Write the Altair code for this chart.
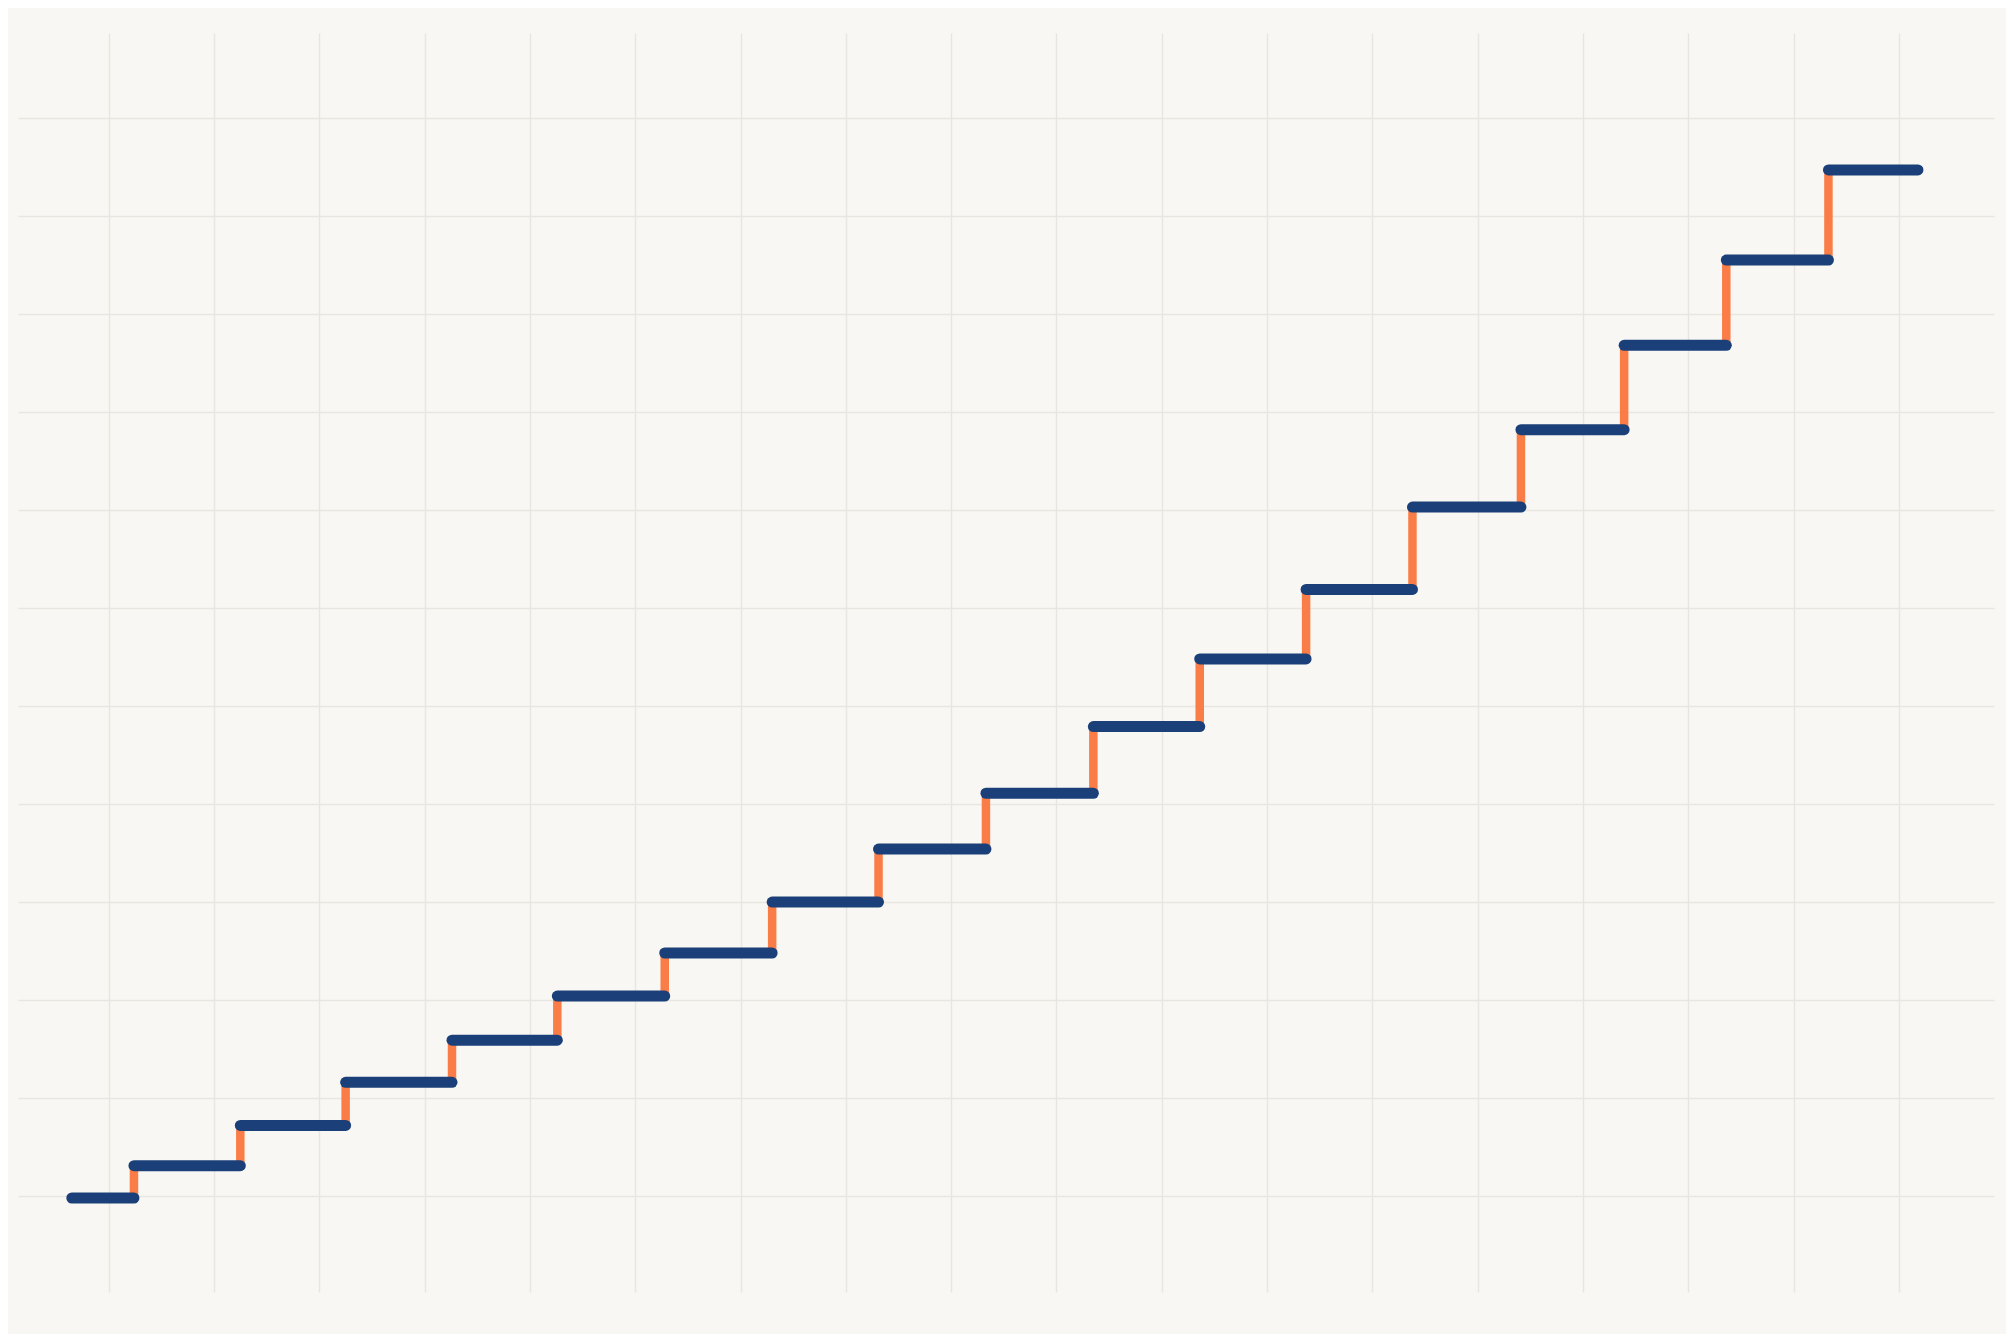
import altair as alt
import pandas as pd

# Step levels (value of each horizontal tread, in grid units)
levels = [-0.02, 0.31, 0.72, 1.16, 1.59, 2.04, 2.48, 3.00, 3.54, 4.11,
          4.79, 5.48, 6.19, 7.03, 7.82, 8.68, 9.55, 10.47]
# x positions where the series steps up
risers = [0.24, 1.25, 2.25, 3.26, 4.26, 5.28, 6.30, 7.31, 8.33, 9.35,
          10.36, 11.37, 12.38, 13.41, 14.39, 15.36, 16.33]
first_start = -0.35
last_end = 17.18

x_ticks = list(range(18))
y_ticks = list(range(12))

treads = pd.DataFrame({
    "x": [first_start] + risers,
    "x2": risers + [last_end],
    "y": levels,
})
rises = pd.DataFrame({
    "x": risers,
    "y": levels[:-1],
    "y2": levels[1:],
})

BG = "#F9F7F3"
GRID = "#E9E5E0"
BLUE = "#1B4079"
ORANGE = "#FA7D47"

xs = alt.Scale(domain=[-0.861, 17.902], nice=False, zero=False)
ys = alt.Scale(domain=[-0.979, 11.867], nice=False, zero=False)

xaxis = alt.Axis(values=x_ticks, grid=True, labels=False, ticks=False,
                 domain=False, title=None, gridColor=GRID, gridWidth=1.5)
yaxis = alt.Axis(values=y_ticks, grid=True, labels=False, ticks=False,
                 domain=False, title=None, gridColor=GRID, gridWidth=1.5)

riser_layer = alt.Chart(rises).mark_rule(
    color=ORANGE, strokeWidth=8.5
).encode(
    x=alt.X("x:Q", scale=xs, axis=xaxis),
    y=alt.Y("y:Q", scale=ys, axis=yaxis),
    y2="y2:Q",
)

tread_layer = alt.Chart(treads).mark_rule(
    color=BLUE, strokeWidth=11, strokeCap="round"
).encode(
    x=alt.X("x:Q", scale=xs, axis=xaxis),
    x2="x2:Q",
    y=alt.Y("y:Q", scale=ys, axis=yaxis),
)

chart = alt.layer(riser_layer, tread_layer).properties(
    width=1976,
    height=1259,
    padding={"left": 10, "top": 25, "right": 12, "bottom": 42},
    background=BG,
).configure_view(strokeWidth=0)

chart.save("out.html", embed_options={"renderer": "svg", "actions": False})
